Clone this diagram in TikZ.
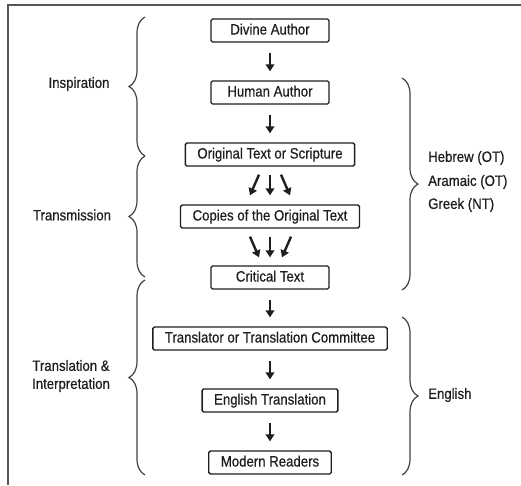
\documentclass[tikz,border=0pt]{standalone}
\usepackage{fontspec}
\setmainfont{Liberation Sans}[FakeStretch=0.88,FakeBold=0.6]
\usetikzlibrary{arrows.meta,decorations.pathreplacing}
\definecolor{ink}{HTML}{1E1E1E}
\definecolor{framec}{HTML}{555555}
\begin{document}
\begin{tikzpicture}[x=1pt,y=-1pt,
  every node/.style={font=\fontsize{15}{18}\selectfont, text=ink},
  box/.style={draw=ink, line width=1.3pt, rounded corners=1.5pt, minimum height=23pt,
    minimum width=118pt, inner xsep=12pt, inner ysep=0pt, text height=11pt, text depth=3pt},
  arr/.style={line width=2.4pt, draw=ink, -{Triangle[length=7pt,width=8.5pt]}},
  single/.style={arr, shorten <=10pt, shorten >=9pt},
  brc/.style={draw=ink!85, line width=1.2pt, decorate, decoration={brace, amplitude=16pt}},
  lbl/.style={align=center, inner sep=0pt},
  framestyle/.style={draw=framec, line width=1.8pt}
]
\useasboundingbox (0,0) rectangle (521,485);
\draw[framestyle] (8,485) -- (8,5) -- (521,5);

% boxes
\node[box] (div) at (270,30.5) {Divine Author};
\node[box] (hum) at (270,92.5) {Human Author};
\node[box] (ori) at (270,154.5) {Original Text or Scripture};
\node[box] (cop) at (270,216.5) {Copies of the Original Text};
\node[box] (cri) at (270,277.5) {Critical Text};
\node[box] (tra) at (270,338.5) {Translator or Translation Committee};
\node[box] (eng) at (270,400.5) {English Translation};
\node[box] (mod) at (270,462.5) {Modern Readers};

% single arrows
\draw[single] (div.south) -- (hum.north);
\draw[single] (hum.south) -- (ori.north);
\draw[single] (cri.south) -- (tra.north);
\draw[single] (tra.south) -- (eng.north);
\draw[single] (eng.south) -- (mod.north);

% triple arrows: original -> copies
\draw[arr] ([shift={(-11,8)}]ori.south) -- ([shift={(-20,-9)}]cop.north);
\draw[arr] ([shift={(0,8)}]ori.south) -- ([shift={(0,-9)}]cop.north);
\draw[arr] ([shift={(11,8)}]ori.south) -- ([shift={(20,-9)}]cop.north);
% triple arrows: copies -> critical
\draw[arr] ([shift={(-20,8)}]cop.south) -- ([shift={(-11,-8)}]cri.north);
\draw[arr] ([shift={(0,8)}]cop.south) -- ([shift={(0,-8)}]cri.north);
\draw[arr] ([shift={(21,8)}]cop.south) -- ([shift={(12,-8)}]cri.north);

% left braces
\coordinate (inT) at (145,17);
\coordinate (inB) at (145,156);
\coordinate (trT) at (145,156);
\coordinate (trB) at (145,277);
\coordinate (tiT) at (145,280);
\coordinate (tiB) at (145,475);
\draw[brc] (inB) -- (inT);
\draw[brc] (trB) -- (trT);
\draw[brc] (tiB) -- (tiT);

% right braces
\coordinate (heT) at (402,78);
\coordinate (heB) at (402,290);
\coordinate (enT) at (402,317);
\coordinate (enB) at (402,475);
\draw[brc] (heT) -- (heB);
\draw[brc] (enT) -- (enB);

% labels
\node[lbl] (linsp) at (79,84) {Inspiration};
\node[lbl] (ltrans) at (72,215) {Transmission};
\node[lbl] (ltrint) at (71,376) {Translation \&\\Interpretation};
\node[lbl, anchor=west] (lheb) at (428,158) {Hebrew (OT)};
\node[lbl, anchor=west] (laram) at (428,182) {Aramaic (OT)};
\node[lbl, anchor=west] (lgreek) at (428,205) {Greek (NT)};
\node[lbl, anchor=west] (leng) at (428,395) {English};
\end{tikzpicture}
\end{document}
